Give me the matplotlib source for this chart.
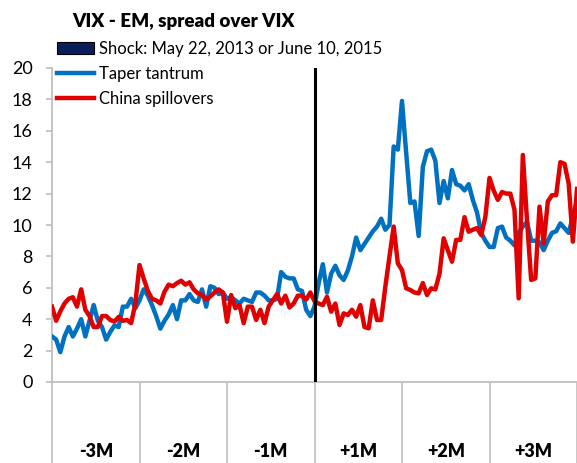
import matplotlib
matplotlib.use("Agg")
import matplotlib.pyplot as plt
from matplotlib.patches import Patch
from matplotlib.lines import Line2D
import numpy as np

plt.rcParams['font.family'] = ['Lato', 'DejaVu Sans']

# trading days relative to the shock
days = np.arange(-63, 64)

taper = [2.9, 2.7, 1.9, 2.9, 3.5, 2.9, 3.4, 4.0, 2.9, 3.9,
         4.9, 3.9, 3.5, 2.7, 3.2, 3.6, 3.5, 4.8, 4.8, 5.3,
         4.7, 5.2, 5.9, 5.5, 4.9, 4.2, 3.4, 3.9, 4.3, 4.9,
         4.0, 5.2, 5.2, 5.6, 5.2, 5.1, 5.9, 4.8, 6.1, 6.0,
         5.6, 5.7, 5.3, 5.4, 5.2, 5.0, 5.3, 5.2, 5.1, 5.7,
         5.7, 5.5, 5.2, 5.2, 5.3, 7.0, 6.7, 6.6, 6.6, 5.9,
         5.8, 4.6, 4.2, 4.8, 6.3, 7.5, 5.7, 6.9, 7.4, 6.8,
         6.5, 7.1, 8.0, 9.2, 8.4, 8.8, 9.2, 9.6, 9.9, 10.4,
         9.7, 10.0, 15.0, 14.8, 17.9, 14.6, 11.4, 11.5, 9.3, 13.7,
         14.7, 14.8, 14.1, 11.4, 12.8, 11.7, 13.5, 12.6, 12.5, 12.2,
         12.6, 11.6, 10.8, 9.5, 9.0, 8.6, 8.6, 9.8, 9.9, 9.2,
         9.0, 8.7, 9.5, 9.9, 10.2, 9.0, 9.0, 8.9, 8.4, 9.0,
         9.5, 9.6, 10.1, 9.8, 9.5, 10.5, 11.6]

china = [4.8, 3.9, 4.5, 5.0, 5.3, 5.4, 4.8, 5.9, 4.6, 4.2,
         3.5, 3.5, 4.2, 4.2, 3.95, 3.85, 4.15, 3.9, 3.95, 3.75,
         5.0, 7.45, 6.6, 5.8, 5.3, 5.2, 5.0, 5.75, 6.2, 6.1,
         6.3, 6.45, 6.2, 6.35, 5.9, 5.65, 5.54, 5.25, 5.45, 5.7,
         5.9, 5.7, 3.84, 5.54, 4.7, 4.9, 3.75, 4.8, 4.8, 3.95,
         4.6, 3.75, 4.8, 5.2, 5.6, 5.0, 5.5, 4.75, 5.0, 5.5,
         5.5, 5.25, 5.7, 5.15, 5.0, 4.9, 5.43, 4.48, 5.0, 3.63,
         4.37, 4.27, 4.6, 4.16, 4.9, 3.5, 3.42, 5.2, 3.95, 3.95,
         6.07, 8.0, 9.9, 7.56, 7.13, 5.97, 5.86, 5.7, 5.65, 6.3,
         5.54, 5.97, 5.9, 6.9, 9.15, 8.4, 7.66, 9.05, 9.05, 10.5,
         9.57, 9.7, 9.8, 9.36, 10.5, 13.0, 12.2, 11.6, 12.1, 12.0,
         12.0, 10.96, 5.33, 14.46, 10.3, 6.5, 6.6, 11.17, 8.83, 11.5,
         11.9, 11.9, 14.0, 13.9, 12.65, 8.94, 12.3]

month_labels = ['-3M', '-2M', '-1M', '+1M', '+2M', '+3M']
month_edges = [-63, -42, -21, 0, 21, 42, 63]

fig = plt.figure(figsize=(5.77, 4.63), dpi=100)
ax = fig.add_axes([52 / 577, 1 - 382 / 463, 525 / 577, 314 / 463])

ax.plot(days, taper, color='#0070C0', lw=3.2, label='Taper tantrum', zorder=3)
ax.plot(days, china, color='#E00000', lw=3.2, label='China spillovers', zorder=3)
ax.axvline(0, color='black', lw=2.2, zorder=4)

ax.set_xlim(-63, 63)
ax.set_ylim(0, 20)
ax.set_yticks(range(0, 21, 2))

grey = '#BFBFBF'
for s in ['top', 'right']:
    ax.spines[s].set_visible(False)
ax.spines['left'].set_color(grey)
ax.spines['bottom'].set_color(grey)
ax.spines['left'].set_linewidth(1.3)
ax.spines['bottom'].set_linewidth(1.3)

ax.tick_params(axis='y', colors=grey, labelcolor='black', length=4, width=1.2,
               pad=10, labelsize=13)

centers = [(a + b) / 2 for a, b in zip(month_edges[:-1], month_edges[1:])]
ax.set_xticks(centers)
ax.set_xticklabels(month_labels, fontweight='heavy', fontsize=13)
ax.tick_params(axis='x', which='major', length=0, pad=44)
ax.set_xticks(month_edges, minor=True)
ax.tick_params(axis='x', which='minor', length=60, width=1.2, color=grey)

fig.text(72 / 577, 1 - 21 / 463, 'VIX - EM, spread over VIX', fontsize=13.5,
         fontweight='heavy', va='center', ha='left')

handles = [Patch(facecolor='#0A1E5A', edgecolor='black', lw=0.8,
                 label='Shock: May 22, 2013 or June 10, 2015'),
           Line2D([], [], color='#0070C0', lw=3.2, label='Taper tantrum'),
           Line2D([], [], color='#E00000', lw=3.2, label='China spillovers')]
fig.legend(handles=handles, loc='upper left',
           bbox_to_anchor=(52 / 577, 1 - 36 / 463), frameon=False,
           fontsize=12, handlelength=2.2, handletextpad=0.3,
           labelspacing=0.55, borderaxespad=0, borderpad=0.3)

fig.savefig('out.png', dpi=100)
